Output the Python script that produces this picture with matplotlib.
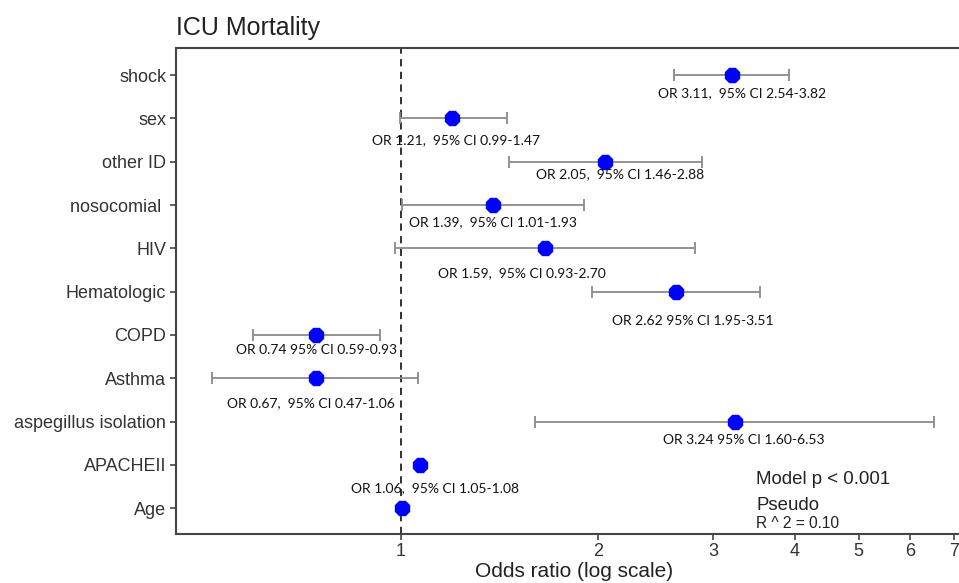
import matplotlib
matplotlib.use("Agg")
import matplotlib.pyplot as plt
from matplotlib.ticker import FixedLocator, NullLocator

# Data (bottom to top)
categories = ["Age", "APACHEII", "aspegillus isolation", "Asthma", "COPD",
              "Hematologic", "HIV", "nosocomial ", "other ID", "sex", "shock"]
odds = [1.005, 1.07, 3.24, 0.742, 0.742, 2.63, 1.66, 1.38, 2.05, 1.198, 3.20]
ci_low = [None, None, 1.60, 0.515, 0.595, 1.96, 0.98, 1.005, 1.462, 0.997, 2.61]
ci_high = [None, None, 6.53, 1.06, 0.927, 3.53, 2.81, 1.904, 2.88, 1.454, 3.92]
labels = ["", "OR 1.06,  95% CI 1.05-1.08", "OR 3.24 95% CI 1.60-6.53",
          "OR 0.67,  95% CI 0.47-1.06", "OR 0.74 95% CI 0.59-0.93",
          "OR 2.62 95% CI 1.95-3.51", "OR 1.59,  95% CI 0.93-2.70",
          "OR 1.39,  95% CI 1.01-1.93", "OR 2.05,  95% CI 1.46-2.88",
          "OR 1.21,  95% CI 0.99-1.47", "OR 3.11,  95% CI 2.54-3.82"]
# label offsets in pixels (dx, dy) relative to point
label_offsets = [(0, 0), (15, -23), (9, -18), (-5, -25), (0, -15), (17, -29),
                 (-23, -25), (0, -17), (15, -12), (4, -22), (10, -18)]
xticks = [1, 2, 3, 4, 5, 6, 7]

fig = plt.figure(figsize=(9.59, 5.83), dpi=100)
ax = fig.add_axes([0.1835, 0.0846, 0.8165, 0.8325])

ys = list(range(len(categories)))
for y, o, lo, hi in zip(ys, odds, ci_low, ci_high):
    if lo is not None:
        ax.errorbar([o], [y], xerr=[[o - lo], [hi - o]], fmt='none',
                    ecolor='#8a8a8a', elinewidth=1.3, capsize=4.5,
                    capthick=1.3, zorder=2)
ax.plot(odds, ys, linestyle='none', marker='8', markersize=11.5,
        color='#0000ff', markeredgecolor='#0000ff', zorder=3)

for y, o, lab, (dx, dy) in zip(ys, odds, labels, label_offsets):
    if lab:
        ax.annotate(lab, xy=(o, y), xytext=(dx, dy), textcoords='offset pixels',
                    ha='center', va='center', fontsize=10, family='Lato',
                    color='#111111')

ax.axvline(1, color='#222222', linestyle=(0, (4, 3)), linewidth=1.3, zorder=1)

ax.set_xscale('log')
ax.set_xlim(0.453, 7.12)
ax.set_ylim(-0.59, 10.62)
ax.xaxis.set_major_locator(FixedLocator(xticks))
ax.xaxis.set_minor_locator(NullLocator())
ax.set_xticklabels([str(t) for t in xticks], fontsize=13,
                   family='Liberation Sans', color='#333333')
ax.set_yticks(ys)
ax.set_yticklabels(categories, fontsize=13, family='Liberation Sans',
                   color='#333333')
ax.tick_params(axis='both', length=4, width=1.2, color='#444444', pad=3)

for s in ['left', 'top', 'bottom']:
    ax.spines[s].set_color('#444444')
    ax.spines[s].set_linewidth(1.5)
ax.spines['right'].set_visible(False)

fig.text(574 / 959, 2 / 583, "Odds ratio (log scale)", fontsize=15,
         family='Liberation Sans', color='#222222', ha='center', va='bottom')
fig.text(0.1835, 1 - 35 / 583, "ICU Mortality", fontsize=18,
         family='Liberation Sans', color='#222222', ha='left', va='baseline')

fig.text(756 / 959, 1 - 480 / 583, "Model p < 0.001", fontsize=13.4,
         family='Liberation Sans', color='#222222', ha='left', va='center')
fig.text(756 / 959, 1 - 506 / 583, "Pseudo", fontsize=13.4,
         family='Liberation Sans', color='#222222', ha='left', va='center')
fig.text(756 / 959, 1 - 523 / 583, "R ^ 2 = 0.10", fontsize=11.2,
         family='Liberation Sans', color='#222222', ha='left', va='center')

fig.savefig("out.png", dpi=100)
